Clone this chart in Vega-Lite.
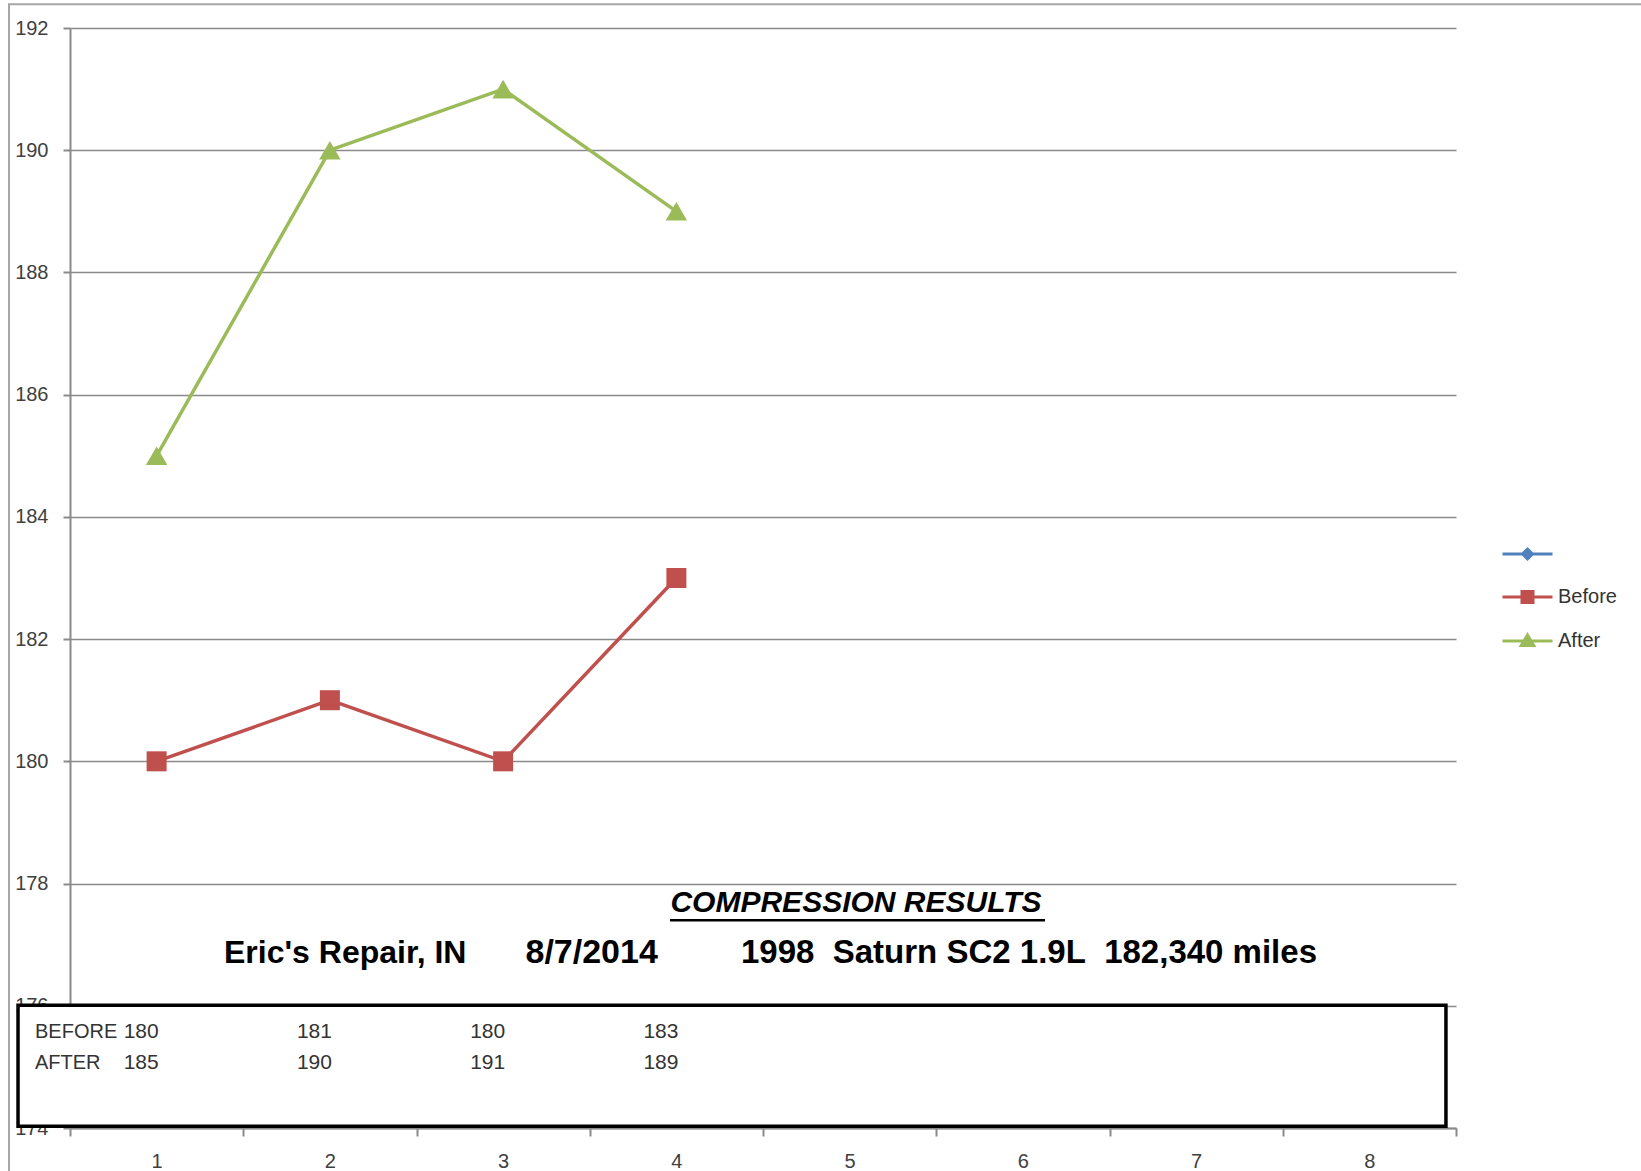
{
  "$schema": "https://vega.github.io/schema/vega-lite/v6.json",
  "autosize": {"type": "none"},
  "padding": {"left": 70, "top": 28, "right": 185, "bottom": 43},
  "width": 1386,
  "height": 1100,
  "background": "white",
  "config": {
    "view": {"stroke": null},
    "font": "Liberation Sans",
    "axis": {"labelFont": "Liberation Sans", "labelColor": "#404040", "labelFontSize": 20, "domainColor": "#8a8a8a", "domainWidth": 2, "tickColor": "#8a8a8a", "tickWidth": 2, "gridColor": "#8a8a8a", "gridWidth": 1.6, "title": null}
  },
  "datasets": {
    "one": [{"note": "annotation"}]
  },
  "data": {
    "values": [
      {"cyl": 1, "series": "Before", "psi": 180},
      {"cyl": 2, "series": "Before", "psi": 181},
      {"cyl": 3, "series": "Before", "psi": 180},
      {"cyl": 4, "series": "Before", "psi": 183},
      {"cyl": 1, "series": "After", "psi": 185},
      {"cyl": 2, "series": "After", "psi": 190},
      {"cyl": 3, "series": "After", "psi": 191},
      {"cyl": 4, "series": "After", "psi": 189}
    ]
  },
  "layer": [
    {
      "data": {"name": "one"},
      "mark": {"type": "rect", "fill": null, "fillOpacity": 0, "stroke": "#a6a6a6", "strokeWidth": 2},
      "encoding": {
        "x": {"datum": 0.148, "type": "quantitative", "scale": {"domain": [0.5, 8.5], "nice": false, "zero": false},
          "axis": {"values": [0.5, 1.5, 2.5, 3.5, 4.5, 5.5, 6.5, 7.5, 8.5], "labelExpr": "datum.value < 8 ? toString(datum.value + 0.5) : ''", "labelOffset": 86.6, "tickSize": 8, "labelPadding": 15, "labelFlush": false, "labelOverlap": false, "labelBound": false, "grid": false}},
        "x2": {"datum": 11},
        "y": {"datum": 192.39, "type": "quantitative", "scale": {"domain": [174, 192], "nice": false, "zero": false},
          "axis": {"values": [174, 176, 178, 180, 182, 184, 186, 188, 190, 192], "format": "d", "tickSize": 7, "labelPadding": 15, "grid": true, "labelFlush": false, "labelOverlap": false, "labelBound": false}},
        "y2": {"datum": 172}
      }
    },
    {
      "mark": {"type": "line", "strokeWidth": 3.5},
      "encoding": {
        "x": {"field": "cyl", "type": "quantitative"},
        "y": {"field": "psi", "type": "quantitative"},
        "color": {"field": "series", "type": "nominal", "scale": {"domain": ["Before", "After"], "range": ["#C0504D", "#9BBB59"]}, "legend": null}
      }
    },
    {
      "transform": [{"filter": "datum.series == 'Before'"}],
      "mark": {"type": "point", "shape": "square", "filled": true, "size": 400, "opacity": 1},
      "encoding": {
        "x": {"field": "cyl", "type": "quantitative"},
        "y": {"field": "psi", "type": "quantitative"},
        "color": {"field": "series", "type": "nominal", "legend": null}
      }
    },
    {
      "transform": [{"filter": "datum.series == 'After'"}],
      "mark": {"type": "point", "shape": "triangle-up", "filled": true, "size": 460, "opacity": 1},
      "encoding": {
        "x": {"field": "cyl", "type": "quantitative"},
        "y": {"field": "psi", "type": "quantitative"},
        "color": {"field": "series", "type": "nominal", "legend": null}
      }
    },
    {
      "data": {"name": "one"},
      "mark": {"type": "text", "text": "COMPRESSION RESULTS", "font": "Liberation Sans", "fontSize": 30, "fontWeight": "bold", "fontStyle": "italic", "align": "center", "baseline": "middle", "color": "black"},
      "encoding": {"x": {"datum": 5.037, "type": "quantitative"}, "y": {"datum": 177.68, "type": "quantitative"}}
    },
    {
      "data": {"name": "one"},
      "mark": {"type": "rule", "color": "black", "strokeWidth": 2.5},
      "encoding": {"x": {"datum": 3.963, "type": "quantitative"}, "x2": {"datum": 6.128}, "y": {"datum": 177.4, "type": "quantitative"}}
    },
    {
      "data": {"name": "one"},
      "mark": {"type": "text", "text": "Eric's Repair, IN", "font": "Liberation Sans", "fontSize": 32, "fontWeight": "bold", "align": "left", "baseline": "middle", "color": "black"},
      "encoding": {"x": {"datum": 1.389, "type": "quantitative"}, "y": {"datum": 176.87, "type": "quantitative"}}
    },
    {
      "data": {"name": "one"},
      "mark": {"type": "text", "text": "8/7/2014", "font": "Liberation Sans", "fontSize": 34, "fontWeight": "bold", "align": "left", "baseline": "middle", "color": "black"},
      "encoding": {"x": {"datum": 3.129, "type": "quantitative"}, "y": {"datum": 176.87, "type": "quantitative"}}
    },
    {
      "data": {"name": "one"},
      "mark": {"type": "text", "text": "1998\u00a0 Saturn SC2 1.9L\u00a0 182,340 miles", "font": "Liberation Sans", "fontSize": 33, "fontWeight": "bold", "align": "left", "baseline": "middle", "color": "black"},
      "encoding": {"x": {"datum": 4.373, "type": "quantitative"}, "y": {"datum": 176.87, "type": "quantitative"}}
    },
    {
      "data": {"name": "one"},
      "mark": {"type": "rect", "fill": "white", "stroke": "black", "strokeWidth": 3.5},
      "encoding": {"x": {"datum": 0.2, "type": "quantitative"}, "x2": {"datum": 8.442}, "y": {"datum": 176.01, "type": "quantitative"}, "y2": {"datum": 174.03}}
    },
    {
      "data": {"name": "one"},
      "mark": {"type": "text", "text": "BEFORE", "font": "Liberation Sans", "fontSize": 20, "fontWeight": "normal", "align": "left", "baseline": "middle", "color": "#333333"},
      "encoding": {"x": {"datum": 0.298, "type": "quantitative"}, "y": {"datum": 175.57, "type": "quantitative"}}
    },
    {
      "data": {"name": "one"},
      "mark": {"type": "text", "text": "AFTER", "font": "Liberation Sans", "fontSize": 20, "fontWeight": "normal", "align": "left", "baseline": "middle", "color": "#333333"},
      "encoding": {"x": {"datum": 0.298, "type": "quantitative"}, "y": {"datum": 175.06, "type": "quantitative"}}
    },
    {
      "transform": [{"filter": "datum.series == 'Before'"}],
      "mark": {"type": "text", "font": "Liberation Sans", "fontSize": 21, "fontWeight": "normal", "align": "left", "baseline": "middle", "dx": -33, "color": "#333333"},
      "encoding": {"x": {"field": "cyl", "type": "quantitative"}, "y": {"datum": 175.57, "type": "quantitative"}, "text": {"field": "psi", "type": "quantitative"}}
    },
    {
      "transform": [{"filter": "datum.series == 'After'"}],
      "mark": {"type": "text", "font": "Liberation Sans", "fontSize": 21, "fontWeight": "normal", "align": "left", "baseline": "middle", "dx": -33, "color": "#333333"},
      "encoding": {"x": {"field": "cyl", "type": "quantitative"}, "y": {"datum": 175.06, "type": "quantitative"}, "text": {"field": "psi", "type": "quantitative"}}
    },
    {
      "transform": [{"filter": "false"}],
      "mark": {"type": "point", "filled": true, "opacity": 1},
      "encoding": {
        "x": {"field": "cyl", "type": "quantitative"},
        "y": {"field": "psi", "type": "quantitative"},
        "fill": {"field": "series", "type": "nominal", "scale": {"domain": ["", "Before", "After"], "range": ["#4F81BD", "#C0504D", "#9BBB59"]},
          "legend": {"title": null, "orient": "none", "legendX": 1447.5, "legendY": 516, "symbolSize": 100, "symbolStrokeWidth": 3, "labelFontSize": 20, "labelFont": "Liberation Sans", "labelColor": "#333333", "labelOffset": 20.5, "rowPadding": 20, "padding": 0, "symbolOpacity": 1}},
        "stroke": {"field": "series", "type": "nominal", "scale": {"domain": ["", "Before", "After"], "range": ["#4F81BD", "#C0504D", "#9BBB59"]}, "legend": {"title": null}},
        "shape": {"field": "series", "type": "nominal", "scale": {"domain": ["", "Before", "After"], "range": ["M-5,0H5M0,-1L1,0L0,1L-1,0Z", "M-5,0H5M-1.1,-1.1H1.1V1.1H-1.1Z", "M-5,0H5M0,-1.2L1.25,0.9H-1.25Z"]}, "legend": {"title": null}}
      }
    }
  ]
}
